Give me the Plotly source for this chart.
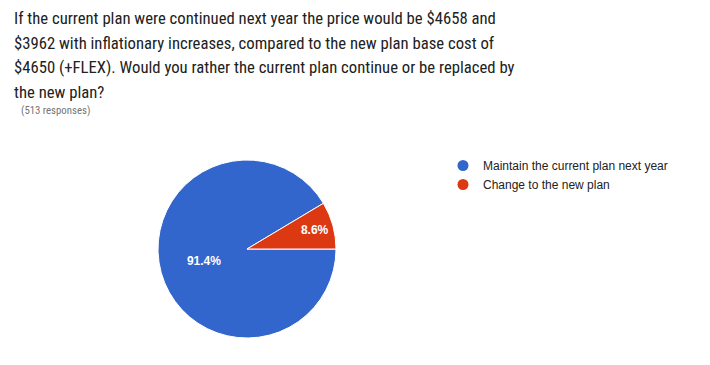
import plotly.graph_objects as go

labels = ["Maintain the current plan next year", "Change to the new plan"]
values = [469, 44]
colors = ["#3366CC", "#DC3912"]
title_lines = [
    "If the current plan were continued next year the price would be $4658 and",
    "$3962 with inflationary increases, compared to the new plan base cost of",
    "$4650 (+FLEX). Would you rather the current plan continue or be replaced by",
    "the new plan?",
]
subtitle = "(513 responses)"

# page body adds an 8px offset; figure coordinates below are screen minus 8
W, H = 702, 357
cx, cy, r = 239, 241, 89

fig = go.Figure()
fig.add_trace(go.Pie(
    labels=labels, values=values, sort=False,
    direction="clockwise", rotation=90,
    marker=dict(colors=colors, line=dict(color="white", width=1)),
    texttemplate="%{percent:.1%}", textposition="inside",
    insidetextorientation="horizontal",
    textfont=dict(color="white", size=12, family="Arial", weight="bold"),
    hoverinfo="label+percent",
    showlegend=False,
    domain=dict(x=[(cx - r) / W, (cx + r) / W], y=[(H - cy - r) / H, (H - cy + r) / H]),
))
for lab, col in zip(labels, colors):
    fig.add_trace(go.Scatter(
        x=[None], y=[None], mode="markers", name=lab,
        marker=dict(color=col, size=11, symbol="circle"),
        showlegend=True,
    ))

for i, ln in enumerate(title_lines):
    fig.add_annotation(
        text=ln, x=4 / W, y=1 - (10.5 + 24.6 * i) / H, xref="paper", yref="paper",
        xanchor="left", yanchor="middle", align="left", showarrow=False,
        font=dict(family="Roboto Condensed", size=16.7, color="#212121"),
    )
fig.add_annotation(
    text=subtitle, x=11 / W, y=1 - 102 / H, xref="paper", yref="paper",
    xanchor="left", yanchor="middle", align="left", showarrow=False,
    font=dict(family="Roboto Condensed", size=10.8, color="#757575"),
)

fig.update_layout(
    width=W, height=H,
    margin=dict(l=0, r=0, t=0, b=0),
    paper_bgcolor="white", plot_bgcolor="white",
    xaxis=dict(visible=False), yaxis=dict(visible=False),
    legend=dict(x=435 / W, y=1 - 143 / H, xanchor="left", yanchor="top",
                font=dict(family="Arial", size=12, color="#222222"),
                bgcolor="rgba(0,0,0,0)", tracegroupgap=0, itemwidth=30),
)

fig.write_html("out.html")
